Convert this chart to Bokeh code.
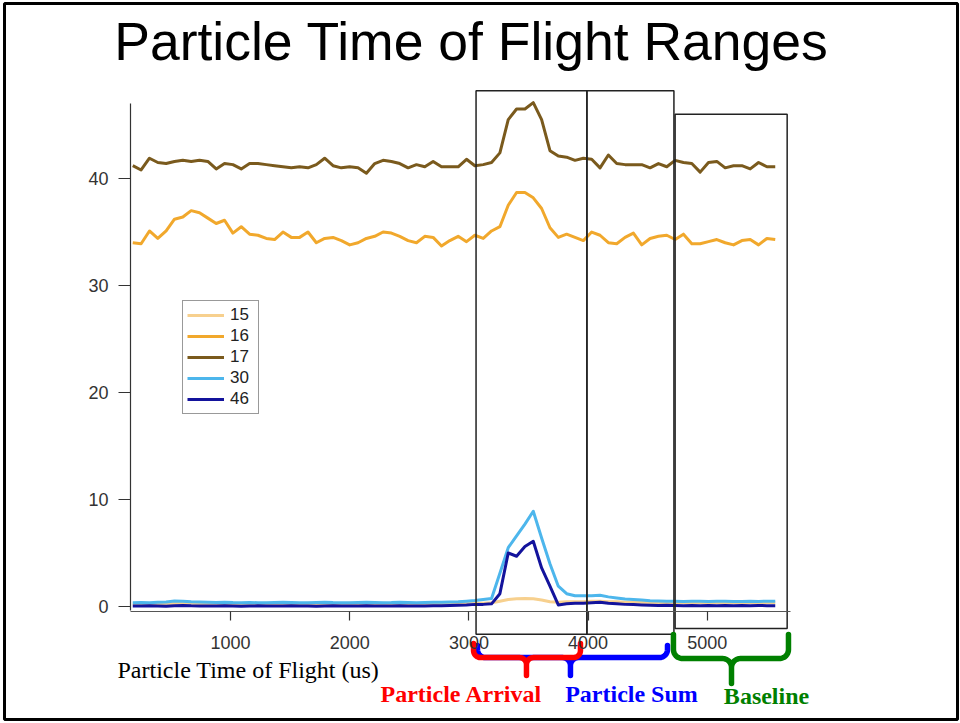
import math
from bokeh.plotting import figure
from bokeh.models import Range1d, LinearAxis, FixedTicker, Legend, LegendItem, Label
from bokeh.embed import file_html
from bokeh.resources import INLINE

# ---------------- data ----------------
title_text = "Particle Time of Flight Ranges"
x_label_text = "Particle Time of Flight (us)"

tof = [180, 250, 320, 390, 460, 530, 600, 670, 740, 810,
       880, 950, 1020, 1090, 1160, 1230, 1300, 1370, 1440, 1510,
       1580, 1650, 1720, 1790, 1860, 1930, 2000, 2070, 2140, 2210,
       2280, 2350, 2420, 2490, 2560, 2630, 2700, 2770, 2840, 2910,
       2980, 3050, 3120, 3190, 3260, 3330, 3400, 3470, 3540, 3610,
       3680, 3750, 3820, 3890, 3960, 4030, 4100, 4170, 4240, 4310,
       4380, 4450, 4520, 4590, 4660, 4730, 4800, 4870, 4940, 5010,
       5080, 5150, 5220, 5290, 5360, 5430, 5500, 5570]

mz15 = [0.25, 0.2, 0.25, 0.3, 0.25, 0.3, 0.35, 0.3, 0.25, 0.25,
        0.2, 0.25, 0.3, 0.25, 0.2, 0.25, 0.3, 0.25, 0.25, 0.2,
        0.25, 0.3, 0.25, 0.2, 0.25, 0.25, 0.3, 0.25, 0.2, 0.25,
        0.3, 0.25, 0.25, 0.2, 0.25, 0.3, 0.25, 0.25, 0.3, 0.25,
        0.3, 0.3, 0.3, 0.35, 0.5, 0.65, 0.72, 0.75, 0.72, 0.6,
        0.45, 0.4, 0.45, 0.45, 0.45, 0.5, 0.5, 0.45, 0.45, 0.4,
        0.4, 0.4, 0.38, 0.4, 0.38, 0.4, 0.38, 0.36, 0.38, 0.4,
        0.38, 0.36, 0.38, 0.4, 0.38, 0.36, 0.38, 0.38]

mz16 = [34.0, 33.9, 35.1, 34.4, 35.1, 36.2, 36.4, 37.0, 36.8, 36.3,
        35.8, 36.1, 34.9, 35.5, 34.8, 34.7, 34.4, 34.3, 35.0, 34.5,
        34.5, 35.0, 34.0, 34.4, 34.5, 34.2, 33.8, 34.0, 34.4, 34.6,
        35.0, 34.9, 34.6, 34.2, 34.0, 34.6, 34.5, 33.7, 34.2, 34.6,
        34.1, 34.7, 34.4, 35.1, 35.5, 37.5, 38.7, 38.7, 38.2, 37.2,
        35.4, 34.5, 34.8, 34.5, 34.2, 35.0, 34.7, 34.0, 33.9, 34.5,
        34.9, 33.8, 34.4, 34.6, 34.7, 34.3, 34.8, 33.9, 33.9, 34.1,
        34.3, 34.0, 33.8, 34.2, 34.3, 33.8, 34.4, 34.3]

mz17 = [41.2, 40.8, 41.9, 41.5, 41.4, 41.6, 41.7, 41.6, 41.7, 41.6,
        40.9, 41.4, 41.3, 40.9, 41.4, 41.4, 41.3, 41.2, 41.1, 41.0,
        41.1, 41.0, 41.3, 41.9, 41.2, 41.0, 41.1, 41.0, 40.5, 41.4,
        41.7, 41.6, 41.4, 41.0, 41.3, 41.1, 41.6, 41.1, 41.1, 41.1,
        41.8, 41.2, 41.3, 41.5, 42.4, 45.5, 46.5, 46.5, 47.1, 45.5,
        42.6, 42.1, 42.0, 41.7, 41.9, 41.8, 41.0, 42.2, 41.4, 41.3,
        41.3, 41.3, 41.0, 41.4, 41.1, 41.7, 41.5, 41.4, 40.6, 41.5,
        41.6, 41.0, 41.2, 41.2, 40.9, 41.5, 41.1, 41.1]

mz30 = [0.35, 0.38, 0.36, 0.4, 0.42, 0.52, 0.5, 0.45, 0.42, 0.4,
        0.38, 0.4, 0.37, 0.36, 0.38, 0.35, 0.36, 0.38, 0.4, 0.37,
        0.35, 0.36, 0.38, 0.4, 0.37, 0.36, 0.35, 0.38, 0.4, 0.38,
        0.36, 0.37, 0.4, 0.38, 0.36, 0.37, 0.39, 0.4, 0.42, 0.45,
        0.5, 0.56, 0.65, 0.75, 3.1, 5.5, 6.6, 7.7, 8.9, 6.4,
        4.0, 1.9, 1.2, 1.0, 1.0, 1.0, 1.05, 0.9, 0.8, 0.7,
        0.65, 0.6, 0.55, 0.52, 0.5, 0.5, 0.48, 0.5, 0.5, 0.48,
        0.5, 0.5, 0.48, 0.47, 0.5, 0.48, 0.5, 0.5]

mz46 = [0.05, 0.05, 0.08, 0.05, 0.03, 0.08, 0.1, 0.06, 0.05, 0.04,
        0.05, 0.06, 0.04, 0.03, 0.05, 0.06, 0.05, 0.04, 0.05, 0.06,
        0.05, 0.04, 0.03, 0.05, 0.06, 0.05, 0.04, 0.05, 0.06, 0.05,
        0.04, 0.05, 0.06, 0.05, 0.04, 0.05, 0.06, 0.08, 0.1, 0.12,
        0.15, 0.2, 0.2, 0.25, 1.2, 5.0, 4.7, 5.6, 6.1, 3.6,
        1.9, 0.15, 0.25, 0.3, 0.3, 0.35, 0.4, 0.3, 0.25, 0.2,
        0.18, 0.15, 0.12, 0.1, 0.12, 0.1, 0.08, 0.1, 0.08, 0.1,
        0.08, 0.1, 0.08, 0.1, 0.08, 0.1, 0.08, 0.08]

series_names = ["15", "16", "17", "30", "46"]
series_values = [mz15, mz16, mz17, mz30, mz46]
series_colors = ["#F7D08E", "#F1A82C", "#7A5A1D", "#4DB6EC", "#13139C"]

y_ticks = [0, 10, 20, 30, 40]
x_ticks = [1000, 2000, 3000, 4000, 5000]

# time windows (us)
arrival_window = [3060, 3990]
sum_window = [3060, 4720]
baseline_window = [4730, 5670]
window_labels = ["Particle Arrival", "Particle Sum", "Baseline"]
window_colors = ["#FF0000", "#0000FF", "#008000"]

# ---------------- figure ----------------
W, H = 960, 723
p = figure(width=W, height=H, output_backend="svg", toolbar_location=None,
           x_axis_location=None, y_axis_location=None,
           min_border_left=4, min_border_right=3, min_border_top=3, min_border_bottom=4,
           x_range=Range1d(-896, 7099), y_range=Range1d(-10.56, 56.36))
p.grid.visible = False
p.outline_line_color = "black"
p.outline_line_width = 3
p.background_fill_color = "white"
p.border_fill_color = "white"

SANS = "Liberation Sans"
SERIF = "Liberation Serif"

yaxis = LinearAxis(fixed_location=161, bounds=(-0.4, 47.0),
                   ticker=FixedTicker(ticks=y_ticks),
                   axis_line_color="#333333", axis_line_width=1.2,
                   major_tick_out=12, major_tick_in=0,
                   minor_tick_out=0, minor_tick_in=0,
                   major_tick_line_color="#333333", major_tick_line_width=1.2,
                   major_label_standoff=10,
                   major_label_text_font=SANS, major_label_text_font_size="18px",
                   major_label_text_color="#333333")
p.add_layout(yaxis, "left")

xaxis = LinearAxis(fixed_location=-0.47, bounds=(161, 5700),
                   ticker=FixedTicker(ticks=x_ticks),
                   axis_line_color="#555555", axis_line_width=1,
                   major_tick_out=9, major_tick_in=0,
                   minor_tick_out=0, minor_tick_in=0,
                   major_tick_line_color="#333333", major_tick_line_width=1.2,
                   major_label_standoff=15,
                   major_label_text_font=SANS, major_label_text_font_size="18px",
                   major_label_text_color="#333333")
p.add_layout(xaxis, "below")

items = []
for name, ys, col in zip(series_names, series_values, series_colors):
    r = p.line(tof, ys, line_color=col, line_width=3, line_join="round")
    items.append(LegendItem(label=name, renderers=[r]))

# window boxes
p.quad(left=[arrival_window[0], arrival_window[1], baseline_window[0]],
       right=[arrival_window[1], sum_window[1], baseline_window[1]],
       top=[48.2, 48.2, 46.0], bottom=[-2.6, -2.6, -2.05],
       fill_alpha=0, line_color="#222222", line_width=1.5)

# curly braces under the windows
XS, YS = 0.1192, 10.699  # px per unit


def brace(x0, x1, xc, y_end, y_bar, y_tip, r_px):
    rx, ry = r_px / XS, r_px / YS
    xs, ys = [x0], [y_end]

    def arc(cx, cy, t0, t1, n=10):
        for k in range(n + 1):
            t = t0 + (t1 - t0) * k / n
            xs.append(cx + rx * math.cos(t))
            ys.append(cy + ry * math.sin(t))

    arc(x0 + rx, y_bar + ry, math.pi, 1.5 * math.pi)
    arc(xc - rx, y_bar - ry, 0.5 * math.pi, 0.0)
    xs.append(xc); ys.append(y_tip)
    arc(xc + rx, y_bar - ry, math.pi, 0.5 * math.pi)
    arc(x1 - rx, y_bar + ry, 1.5 * math.pi, 2 * math.pi)
    xs.append(x1); ys.append(y_end)
    return xs, ys


braces = [
    brace(3072, 4666, 3852, -3.65, -4.77, -6.45, 8),   # sum (blue)
    brace(3039, 3936, 3483, -3.46, -4.77, -6.45, 7),   # arrival (red)
    brace(4716, 5681, 5203, -2.62, -4.86, -7.2, 9),    # baseline (green)
]
brace_colors = [window_colors[1], window_colors[0], window_colors[2]]
for (bx, by), col in zip(braces, brace_colors):
    p.line(bx, by, line_color=col, line_width=5.5, line_join="round", line_cap="round")

# texts
p.add_layout(Label(x=3022, y=52.81, text=title_text, text_align="center",
                   text_baseline="alphabetic", text_font=SANS,
                   text_font_size="53.5px", text_color="black"))
p.add_layout(Label(x=52, y=-5.89, text=x_label_text, text_align="left",
                   text_baseline="alphabetic", text_font=SERIF,
                   text_font_size="24px", text_color="black"))
label_x = [2938, 4364, 5497]
label_y = [-8.13, -8.13, -8.41]
for t, lx, ly, col in zip(window_labels, label_x, label_y, window_colors):
    p.add_layout(Label(x=lx, y=ly, text=t, text_align="center",
                       text_baseline="alphabetic", text_font=SERIF,
                       text_font_style="bold", text_font_size="24px",
                       text_color=col))

legend = Legend(items=items, location=(178, 305), orientation="vertical",
                border_line_color="#333333", border_line_width=1,
                background_fill_color="white", background_fill_alpha=1,
                label_text_font=SANS, label_text_font_size="17px",
                label_text_color="#222222",
                glyph_width=37, glyph_height=20, label_height=20, label_width=24,
                label_standoff=6, spacing=1, padding=4, margin=0)
p.add_layout(legend, "center")

open("out.html", "w").write(file_html(p, INLINE))
